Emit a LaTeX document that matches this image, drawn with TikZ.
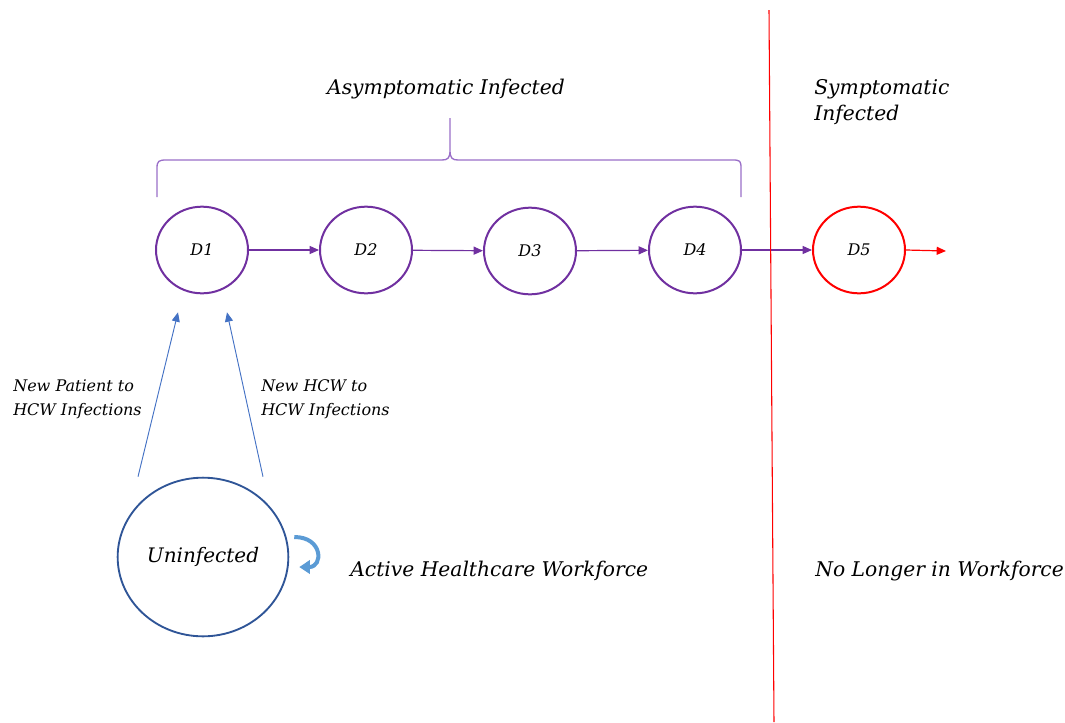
\documentclass[tikz,border=0pt]{standalone}
\usepackage{fontspec}
\setmainfont{DejaVu Serif}
\usetikzlibrary{shapes.geometric,arrows.meta,calc}
\definecolor{stagepurple}{HTML}{7030A0}
\definecolor{bracepurple}{HTML}{9A6FC8}
\definecolor{poolblue}{HTML}{2F5597}
\definecolor{seedblue}{HTML}{4472C4}
\definecolor{loopblue}{HTML}{5B9BD5}
\tikzset{
  stage/.style={
      draw=stagepurple,
      line width=1.5pt,
      ellipse,
      minimum width=69pt,
      minimum height=65pt,
      inner sep=0pt,
      font=\itshape\fontsize{12}{14}\selectfont
  },
  stage+/.style={
      stage,
      draw=red
  },
  pool/.style={
      draw=poolblue,
      line width=1.4pt,
      ellipse,
      minimum width=128pt,
      minimum height=119pt,
      inner sep=0pt,
      font=\itshape\fontsize{15}{18}\selectfont
  },
  flow/.style={stagepurple, line width=0.9pt, -{Triangle[length=7pt,width=6pt]}},
  seed/.style={seedblue, line width=0.7pt, -{Triangle[length=7pt,width=6pt]}},
  tag/.style={font=\itshape\fontsize{15.2}{20}\selectfont, inner sep=0pt},
  note/.style={font=\itshape\fontsize{12}{18}\selectfont, inner sep=0pt, align=left}
}
\begin{document}
\begin{tikzpicture}[x=0.75pt,y=-0.75pt]
  \useasboundingbox (0,0) rectangle (1065,722);
  % infection stages
  \node[stage] (d1) at (202,250) {D1};
  \node[stage] (d2) at (366,250) {D2};
  \node[stage] (d3) at (530,251) {D3};
  \node[stage] (d4) at (695,250) {D4};
  \node[stage+] (d5) at (859,250) {D5};
  \coordinate (out) at (946,251);
  \draw[flow] (d1) -- (d2);
  \draw[flow] (d2) -- (d3);
  \draw[flow] (d3) -- (d4);
  \draw[flow] (d4.east) -- (d5.west);
  \draw[red, line width=0.9pt, -{Triangle[length=7pt,width=6pt]}] (d5.east) -- (out);
  % workforce boundary
  \draw[red, line width=0.8pt] (769,10) -- (774,722);
  % brace over the asymptomatic days
  \draw[bracepurple, line width=1pt]
    (157,197) -- (157,168) .. controls (157,161) and (159,160) .. (166,160)
    -- (442,160) .. controls (448,160) and (450,158) .. (450,150) -- (450,118)
    -- (450,150) .. controls (450,158) and (452,160) .. (458,160)
    -- (733,160) .. controls (740,160) and (741,161) .. (741,168) -- (741,197);
  \node[tag] (asym) at (446,89) {Asymptomatic Infected};
  \node[tag, align=left, anchor=west] (sym) at (814,102) {Symptomatic\\Infected};
  % uninfected pool
  \node[pool] (uninf) at (203,557) {Uninfected};
  \draw[seed] ($(uninf.north)+(-65,0)$) -- ($(d1.south)+(-24,18)$);
  \draw[seed] ($(uninf.north)+(60,0)$) -- ($(d1.south)+(25,18)$);
  \node[note, anchor=west] (pat) at (13,399) {New Patient to\\HCW Infections};
  \node[note, anchor=west] (hcw) at (261,399) {New HCW to\\HCW Infections};
  \draw[loopblue, line width=3pt, -{Triangle[length=8pt,width=10pt]}]
    ($(uninf.east)+(5,-20)$) .. controls ($(uninf.east)+(34,-20)$) and ($(uninf.east)+(34,10)$) .. ($(uninf.east)+(10,10)$);
  \node[tag, anchor=west] (active) at (350,571) {Active Healthcare Workforce};
  \node[tag, anchor=west] (gone) at (815,571) {No Longer in Workforce};
\end{tikzpicture}
\end{document}
